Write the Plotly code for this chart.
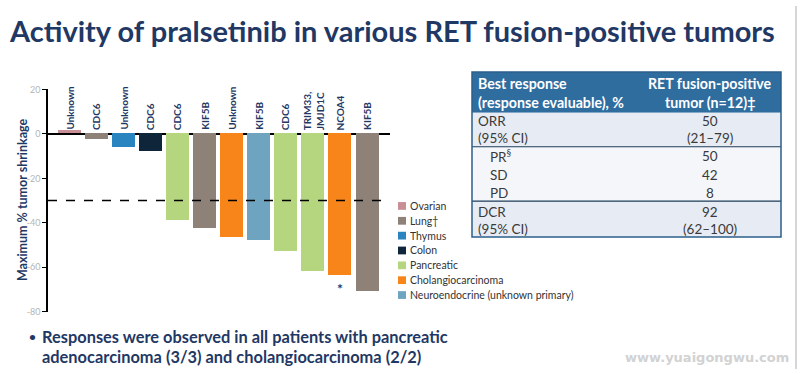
import plotly.graph_objects as go

W, H = 800, 374

# ---------------- data ----------------
genes = ["Unknown", "CDC6", "Unknown", "CDC6", "CDC6", "KIF5B", "Unknown",
         "KIF5B", "CDC6", "TRIM33,<br>JMJD1C", "NCOA4", "KIF5B"]
tumors = ["Ovarian", "Lung\u2020", "Thymus", "Colon", "Pancreatic", "Lung\u2020",
          "Cholangiocarcinoma", "Neuroendocrine (unknown primary)", "Pancreatic",
          "Pancreatic", "Cholangiocarcinoma", "Lung\u2020"]
shrinkage = [1.5, -2.6, -5.9, -8.0, -38.8, -42.5, -46.8, -48.0, -52.8, -61.9, -63.8, -70.9]
starred = [False, False, False, False, False, False, False, False, False, False, True, False]

legend_names = ["Ovarian", "Lung\u2020", "Thymus", "Colon", "Pancreatic",
                "Cholangiocarcinoma", "Neuroendocrine (unknown primary)"]
legend_colors = ["#c98f96", "#8d8178", "#2a84bf", "#0f263a", "#b5d67e", "#f7851a", "#6fa4c1"]

y_tickvals = [-80, -60, -40, -20, 0, 20]
y_ticktext = ["-80", "-60", "-40", "-20", "0", "20"]
response_threshold = -30

title_text = "Activity of pralsetinib in various RET fusion-positive tumors"
y_title = "Maximum % tumor shrinkage"
bullet_lines = ["Responses were observed in all patients with pancreatic",
                "adenocarcinoma (3/3) and cholangiocarcinoma (2/2)"]

table_header = [["Best response", "(response evaluable), %"],
                ["RET fusion-positive", "tumor (n=12)\u2021"]]
table_rows_left = ["ORR", "(95% CI)", "PR<sup>\u00a7</sup>", "SD", "PD", "DCR", "(95% CI)"]
table_rows_right = ["50", "(21\u201379)", "50", "42", "8", "92", "(62\u2013100)"]
table_indent = [False, False, True, True, True, False, False]

watermark = "www.yuaigongwu.com"

# ---------------- helpers (pixel -> paper) ----------------
def px(x):
    return x / W

def py(y):
    return 1 - y / H

NAVY = "#1f3864"
color_map = dict(zip(legend_names, legend_colors))

fig = go.Figure()
fig.add_trace(go.Bar(
    x=list(range(len(shrinkage))),
    y=shrinkage,
    width=0.85,
    marker=dict(color=[color_map[t] for t in tumors], line=dict(width=0)),
    hovertext=[f"{g.replace('<br>', ' ')} ({t})" for g, t in zip(genes, tumors)],
    showlegend=False,
))

annotations = []
shapes = []

# gene labels above zero line
for i, g in enumerate(genes):
    annotations.append(dict(
        x=i, y=0, xref="x", yref="y", text=g, showarrow=False,
        textangle=-90, yanchor="bottom", xanchor="center", yshift=2,
        align="left",
        font=dict(family="Lato", size=10, color=NAVY, weight="bold"),
    ))

# asterisks
for i, (s, v) in enumerate(zip(starred, shrinkage)):
    if s:
        annotations.append(dict(
            x=i, y=v, xref="x", yref="y", text="*", showarrow=False,
            yanchor="top", yshift=-2,
            font=dict(family="Lato", size=14, color=NAVY, weight="bold"),
        ))

# dashed threshold line
shapes.append(dict(type="line", xref="paper", yref="y",
                   x0=px(48), x1=px(389), y0=response_threshold, y1=response_threshold,
                   line=dict(color="black", width=1.5, dash="dash")))

# y title
annotations.append(dict(
    x=px(22), y=py(200), xref="paper", yref="paper", text=y_title,
    showarrow=False, textangle=-90, xanchor="center", yanchor="middle",
    font=dict(family="Lato", size=12.5, color=NAVY, weight="bold"),
))

# main title
annotations.append(dict(
    x=px(7), y=py(25), xref="paper", yref="paper", text=title_text,
    showarrow=False, xanchor="left", yanchor="middle",
    font=dict(family="Lato", size=29, color=NAVY, weight="bold"),
))

# bullet text
annotations.append(dict(
    x=px(27), y=py(340), xref="paper", yref="paper", text="\u2022",
    showarrow=False, xanchor="left", yanchor="middle",
    font=dict(family="Lato", size=12, color=NAVY, weight="bold"),
))
for k, line in enumerate(bullet_lines):
    annotations.append(dict(
        x=px(40), y=py(340 + 21 * k), xref="paper", yref="paper", text=line,
        showarrow=False, xanchor="left", yanchor="middle",
        font=dict(family="Lato", size=16.4, color=NAVY, weight="bold"),
    ))

# manual legend
for k, (name, col) in enumerate(zip(legend_names, legend_colors)):
    yc = 206 + 15.3 * k
    shapes.append(dict(type="rect", xref="paper", yref="paper",
                       x0=px(398), x1=px(406), y0=py(yc - 4), y1=py(yc + 4),
                       fillcolor=col, line=dict(width=0)))
    annotations.append(dict(
        x=px(408), y=py(yc), xref="paper", yref="paper", text=name,
        showarrow=False, xanchor="left", yanchor="middle",
        font=dict(family="Lato", size=10.5, color="#333333"),
    ))

# ---------------- table ----------------
TL, TR = 472, 781
T_TOP, T_HEAD, T_ORR, T_PR, T_BOT = 68, 110, 145, 201, 238
BORDER = "#2b5f8a"
shapes.append(dict(type="rect", xref="paper", yref="paper",
                   x0=px(TL), x1=px(TR), y0=py(T_HEAD), y1=py(T_TOP),
                   fillcolor="#2f6d9f", line=dict(width=0), layer="below"))
for y0, y1, fc in [(T_HEAD, T_ORR, "#e7ecf4"), (T_ORR, T_PR, "#f4f6fa"), (T_PR, T_BOT, "#e7ecf4")]:
    shapes.append(dict(type="rect", xref="paper", yref="paper",
                       x0=px(TL), x1=px(TR), y0=py(y1), y1=py(y0),
                       fillcolor=fc, line=dict(width=0), layer="below"))
for yy in [T_ORR, T_PR]:
    shapes.append(dict(type="line", xref="paper", yref="paper",
                       x0=px(TL), x1=px(TR), y0=py(yy), y1=py(yy),
                       line=dict(color="#1d3c5a", width=1.2)))
shapes.append(dict(type="rect", xref="paper", yref="paper",
                   x0=px(TL), x1=px(TR), y0=py(T_BOT), y1=py(T_TOP),
                   line=dict(color=BORDER, width=1.5)))

for k, line in enumerate(table_header[0]):
    annotations.append(dict(
        x=px(476), y=py(80 + 19 * k), xref="paper", yref="paper", text=line,
        showarrow=False, xanchor="left", yanchor="middle",
        font=dict(family="Lato", size=14.2, color="white", weight="bold"),
    ))
for k, line in enumerate(table_header[1]):
    annotations.append(dict(
        x=px(710), y=py(80 + 19 * k), xref="paper", yref="paper", text=line,
        showarrow=False, xanchor="center", yanchor="middle",
        font=dict(family="Lato", size=14.2, color="white", weight="bold"),
    ))
row_y = [118, 136, 155, 174, 193, 212, 230]
for k, (lt, rt, ind) in enumerate(zip(table_rows_left, table_rows_right, table_indent)):
    annotations.append(dict(
        x=px(488 if ind else 476), y=py(row_y[k]), xref="paper", yref="paper", text=lt,
        showarrow=False, xanchor="left", yanchor="middle",
        font=dict(family="Lato", size=13.5, color="#3a3a3a"),
    ))
    annotations.append(dict(
        x=px(710), y=py(row_y[k]), xref="paper", yref="paper", text=rt,
        showarrow=False, xanchor="center", yanchor="middle",
        font=dict(family="Lato", size=13.5, color="#3a3a3a"),
    ))

# watermark
annotations.append(dict(
    x=px(707), y=py(362), xref="paper", yref="paper", text=watermark,
    showarrow=False, xanchor="center", yanchor="middle",
    font=dict(family="DejaVu Sans", size=13, color="#d2d2d2", weight="bold"),
))

# slide right edge
shapes.append(dict(type="line", xref="paper", yref="paper",
                   x0=px(796), x1=px(796), y0=0, y1=1,
                   line=dict(color="#c8c8c8", width=1.5)))

fig.update_layout(
    width=W, height=H,
    margin=dict(l=0, r=0, t=0, b=0),
    paper_bgcolor="white", plot_bgcolor="white",
    showlegend=False,
    bargap=0,
    xaxis=dict(domain=[px(48), px(390)], range=[-0.8, 11.85],
               visible=False, fixedrange=True),
    yaxis=dict(domain=[py(315), py(86)], range=[-80, 20],
               tickvals=y_tickvals, ticktext=y_ticktext,
               showgrid=False, zeroline=True, zerolinecolor="black", zerolinewidth=1.5,
               showline=True, linecolor="black", linewidth=1.5,
               ticks="outside", ticklen=4, tickcolor="black", tickwidth=1,
               tickfont=dict(family="Lato", size=9, color="#b5b5b5"),
               fixedrange=True),
    annotations=annotations,
    shapes=shapes,
)

fig.write_html("out.html", config={"displayModeBar": False},
               post_script="document.body.style.margin='0';document.body.style.overflow='hidden';")
